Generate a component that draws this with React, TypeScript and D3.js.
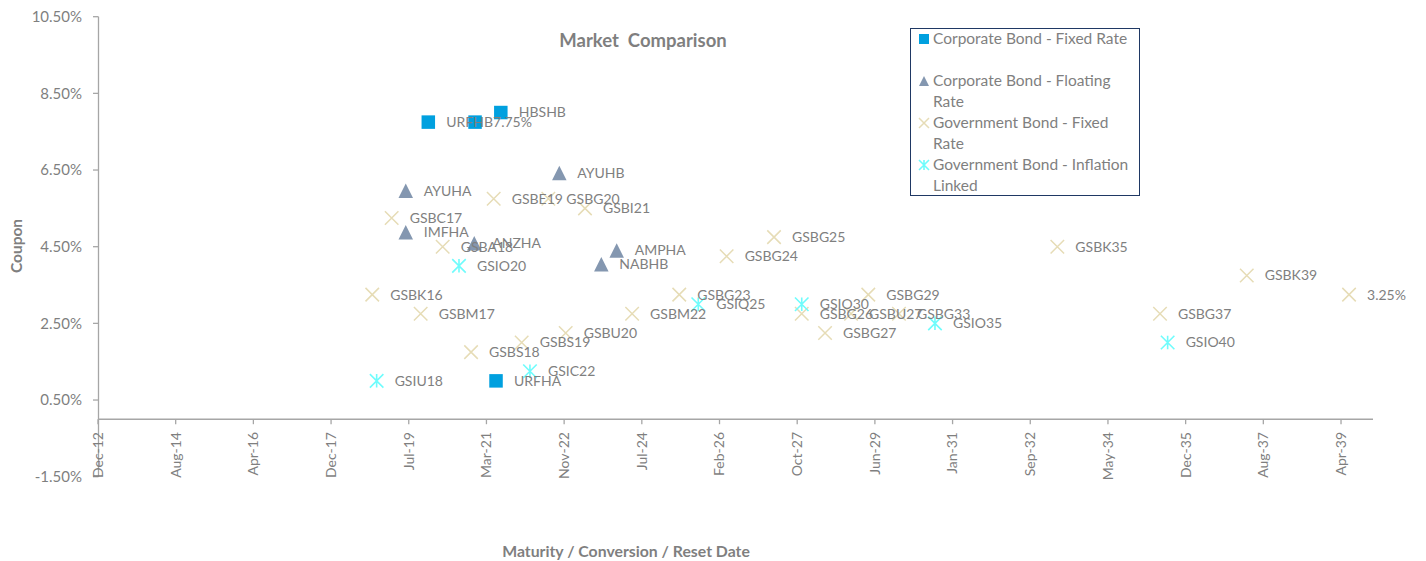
import React from "react";
import * as d3 from "d3";

// ---------- DATA ----------
const corpFixedNames = ["URFHB", "7.75%", "HBSHB", "URFHA"];
const corpFixedDates = ["2019-12-26", "2020-12-21", "2021-07-08", "2021-06-01"];
const corpFixedCoupons = [7.75, 7.75, 8.0, 1.0];

const corpFloatNames = ["AYUHA", "IMFHA", "ANZHA", "AYUHB", "AMPHA", "NABHB"];
const corpFloatDates = ["2019-07-05", "2019-07-05", "2020-12-15", "2022-10-03", "2023-12-20", "2023-08-23"];
const corpFloatCoupons = [5.96, 4.88, 4.59, 6.42, 4.4, 4.04];

const govFixedNames = [
  "GSBK16", "GSBC17", "GSBM17", "GSBA18", "GSBS18", "GSBE19", "GSBS19", "GSBG20",
  "GSBU20", "GSBI21", "GSBM22", "GSBG23", "GSBG24", "GSBG25", "GSBG26", "GSBU27",
  "GSBG33", "GSBG27", "GSBG29", "GSBK35", "GSBG37", "GSBK39", "3.25%",
];
const govFixedDates = [
  "2018-10-19", "2019-03-18", "2019-10-28", "2020-04-15", "2020-11-20", "2021-05-14", "2021-12-16", "2022-07-10",
  "2022-11-21", "2023-04-19", "2024-04-17", "2025-04-16", "2026-04-17", "2027-04-18", "2027-11-18", "2028-12-03",
  "2029-12-08", "2028-05-16", "2029-04-15", "2033-04-14", "2035-06-16", "2037-04-16", "2039-06-15",
];
const govFixedCoupons = [
  3.25, 5.25, 2.75, 4.5, 1.75, 5.75, 2.0, 5.75,
  2.25, 5.5, 2.75, 3.25, 4.25, 4.75, 2.75, 2.75,
  2.75, 2.25, 3.25, 4.5, 2.75, 3.75, 3.25,
];

const govInflNames = ["GSIU18", "GSIO20", "GSIC22", "GSIQ25", "GSIO30", "GSIO35", "GSIO40"];
const govInflDates = ["2018-11-22", "2020-08-19", "2022-02-18", "2025-09-10", "2027-11-18", "2030-09-12", "2035-08-14"];
const govInflCoupons = [1.0, 4.0, 1.25, 3.0, 3.0, 2.5, 2.0];

const seriesNames = [
  ["Corporate Bond - Fixed Rate"],
  ["Corporate Bond - Floating", "Rate"],
  ["Government Bond - Fixed", "Rate"],
  ["Government Bond - Inflation", "Linked"],
];

const xTickLabels = [
  "Dec-12", "Aug-14", "Apr-16", "Dec-17", "Jul-19", "Mar-21", "Nov-22", "Jul-24", "Feb-26",
  "Oct-27", "Jun-29", "Jan-31", "Sep-32", "May-34", "Dec-35", "Aug-37", "Apr-39",
];
const xStart = "2012-12-31";
const xTickStepDays = 600;
const xSpanDays = 9847;
const yTicks = [-1.5, 0.5, 2.5, 4.5, 6.5, 8.5, 10.5];

// ---------- STYLE ----------
const W = 1426;
const H = 561;
const FONT = "Lato, 'Open Sans', sans-serif";
const GRAY = "#7f7f7f";
const AXIS = "#a6a6a6";
const C_SQ = "#00a0df";
const C_TRI = "#8497b0";
const C_X = "#e6dcb6";
const C_AST = "#6ffcfc";

type Pt = { name: string; date: Date; v: number };
const build = (n: string[], d: string[], c: number[]): Pt[] =>
  n.map((name, i) => ({ name, date: new Date(d[i] + "T00:00:00Z"), v: c[i] }));

const series = [
  { kind: "sq", pts: build(corpFixedNames, corpFixedDates, corpFixedCoupons) },
  { kind: "tri", pts: build(corpFloatNames, corpFloatDates, corpFloatCoupons) },
  { kind: "x", pts: build(govFixedNames, govFixedDates, govFixedCoupons) },
  { kind: "ast", pts: build(govInflNames, govInflDates, govInflCoupons) },
];

function Marker({ kind, x, y, s }: { kind: string; x: number; y: number; s: number }) {
  const h = s / 2;
  if (kind === "sq") return <rect x={x - h} y={y - h} width={s} height={s} fill={C_SQ} />;
  if (kind === "tri")
    return <path d={`M${x},${y - h}L${x + h},${y + h}L${x - h},${y + h}Z`} fill={C_TRI} />;
  if (kind === "x")
    return (
      <path
        d={`M${x - h},${y - h}L${x + h},${y + h}M${x + h},${y - h}L${x - h},${y + h}`}
        stroke={C_X}
        strokeWidth={1.5}
        fill="none"
      />
    );
  return (
    <path
      d={`M${x - h},${y - h}L${x + h},${y + h}M${x + h},${y - h}L${x - h},${y + h}M${x},${y - h}L${x},${y + h}`}
      stroke={C_AST}
      strokeWidth={1.6}
      fill="none"
    />
  );
}

export default function App() {
  const base = new Date(xStart + "T00:00:00Z");
  const x = d3
    .scaleUtc()
    .domain([base, d3.utcDay.offset(base, xSpanDays)])
    .range([98, 1373]);
  const y = d3.scaleLinear().domain([-1.5, 10.5]).range([476.7, 16.7]);
  const y0 = y(0);
  const xTicks = xTickLabels.map((lab, i) => ({ lab, d: d3.utcDay.offset(base, i * xTickStepDays) }));

  const legendRows = [
    { kind: "sq", y: 39 },
    { kind: "tri", y: 81 },
    { kind: "x", y: 123 },
    { kind: "ast", y: 165 },
  ];

  return (
    <svg
      width={W}
      height={H}
      style={{ position: "absolute", left: 0, top: 0, background: "#fff" }}
      fontFamily={FONT}
    >
      {/* Y axis */}
      <line x1={98.5} x2={98.5} y1={y(10.5)} y2={y(-1.5)} stroke={AXIS} strokeWidth={1.3} />
      {yTicks.map((t) => (
        <g key={t}>
          <line x1={93} x2={98.5} y1={y(t)} y2={y(t)} stroke={AXIS} strokeWidth={1.3} />
          <text x={82} y={y(t)} dy="0.35em" textAnchor="end" fontSize={15} fill={GRAY}>
            {t.toFixed(2) + "%"}
          </text>
        </g>
      ))}
      {/* X axis */}
      <line x1={98} x2={1373} y1={y0} y2={y0} stroke={AXIS} strokeWidth={1.6} />
      {xTicks.map((t) => {
        const px = x(t.d);
        return (
          <g key={t.lab}>
            <line x1={px} x2={px} y1={y0} y2={y0 + 5} stroke={AXIS} strokeWidth={1.3} />
            <text
              transform={`translate(${px},${432}) rotate(-90)`}
              dy="0.35em"
              textAnchor="end"
              fontSize={14}
              fill={GRAY}
            >
              {t.lab}
            </text>
          </g>
        );
      })}

      {/* markers */}
      {series.map((s) =>
        s.pts.map((p, i) => (
          <Marker key={s.kind + i} kind={s.kind} x={x(p.date)} y={y(p.v)} s={s.kind === "tri" ? 14.5 : 13.5} />
        ))
      )}
      {/* labels */}
      {series.map((s) =>
        s.pts.map((p, i) => (
          <text
            key={"l" + s.kind + i}
            x={x(p.date) + 18}
            y={y(p.v)}
            dy="0.35em"
            fontSize={14}
            fill={GRAY}
          >
            {p.name}
          </text>
        ))
      )}

      {/* title */}
      <text x={643} y={41} dy="0.35em" textAnchor="middle" fontSize={18.5} fontWeight="bold" fill={GRAY} style={{ whiteSpace: "pre" }}>
        {"Market  Comparison"}
      </text>
      {/* axis titles */}
      <text
        transform={`translate(17,246) rotate(-90)`}
        dy="0.35em"
        textAnchor="middle"
        fontSize={15.5}
        fontWeight="bold"
        fill={GRAY}
      >
        Coupon
      </text>
      <text x={626} y={551} dy="0.35em" textAnchor="middle" fontSize={15.8} fontWeight="bold" fill={GRAY}>
        Maturity / Conversion / Reset Date
      </text>

      {/* legend */}
      <rect x={910.5} y={28.5} width={229} height={167} fill="#fff" stroke="#1f3864" strokeWidth={1} />
      {legendRows.map((r, i) => (
        <g key={r.kind}>
          <Marker kind={r.kind} x={924} y={r.y} s={10} />
          {seriesNames[i].map((line, j) => (
            <text key={j} x={933} y={r.y + j * 20.5} dy="0.35em" fontSize={15.5} fill={GRAY}>
              {line}
            </text>
          ))}
        </g>
      ))}
    </svg>
  );
}
